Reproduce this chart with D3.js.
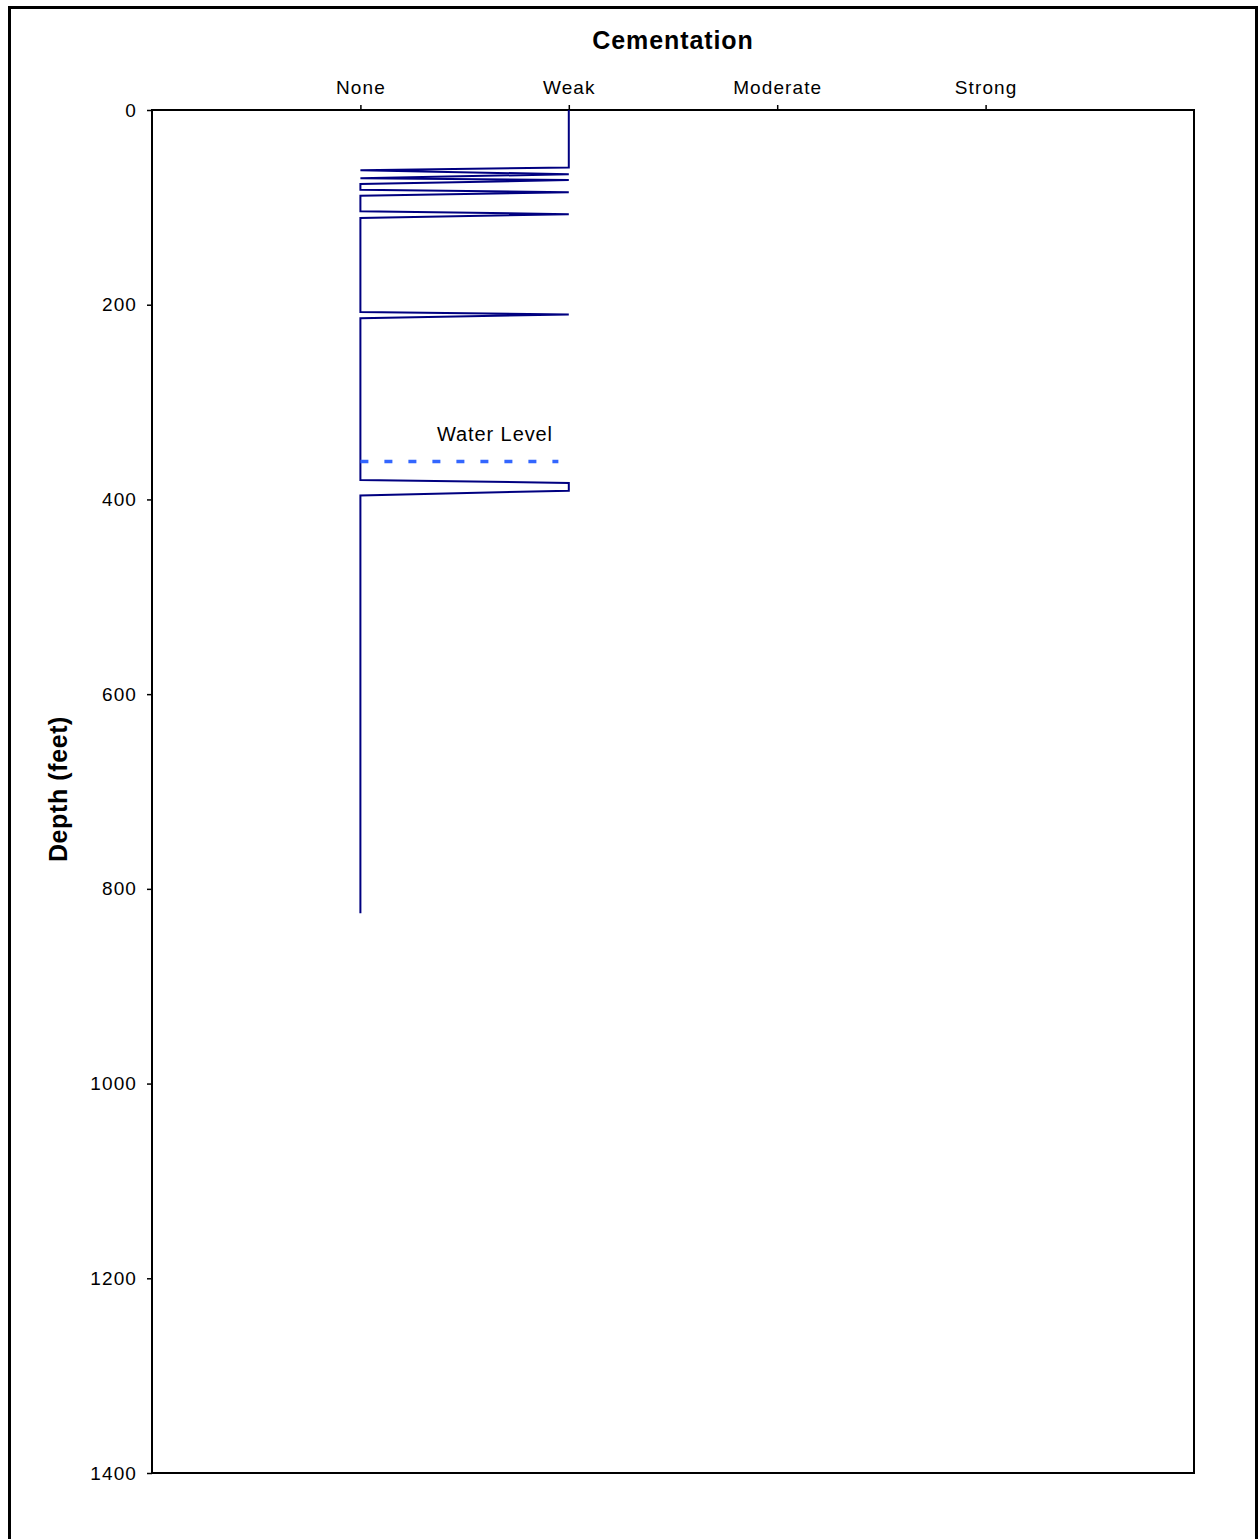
<!DOCTYPE html>
<html>
<head>
<meta charset="utf-8">
<script src="https://cdn.jsdelivr.net/npm/d3@7"></script>
<style>
  html, body { margin: 0; padding: 0; background: #fff; }
  svg { display: block; }
  text { font-family: "Liberation Sans", Arial, Helvetica, sans-serif; fill: #000; }
</style>
</head>
<body>
<svg id="chart" width="1260" height="1539"></svg>
<script>
// ---- data ----
const cementationLabels = ["None", "Weak", "Moderate", "Strong"];
const cementationCodes = [1, 2, 3, 4];
const depthTicks = [0, 200, 400, 600, 800, 1000, 1200, 1400];
// depth (feet) and cementation code (1 = None, 2 = Weak) along the log
const logDepths = [0, 59, 62, 66, 70, 72, 76, 82, 84.5, 88, 104, 107, 111, 207.5, 210, 214, 380, 383, 391, 396, 825];
const logValues = [2, 2, 1, 2, 1, 2, 1, 1, 2, 1, 1, 2, 1, 1, 2, 1, 1, 2, 2, 1, 1];
const waterLevelDepth = 361;
const waterLevelSpan = [1, 1.95];
const waterLevelLabel = "Water Level";
const titleText = "Cementation";
const yAxisTitle = "Depth (feet)";

// ---- layout ----
const svg = d3.select("#chart");
const pLeft = 152, pRight = 1194, pTop = 110, pBottom = 1473;

const x = d3.scaleLinear().domain([0, 5]).range([pLeft, pRight]);
const y = d3.scaleLinear().domain([0, 1400]).range([pTop, pBottom]);

// outer frame
svg.append("rect")
  .attr("x", 9.5).attr("y", 7.5)
  .attr("width", 1247).attr("height", 1560)
  .attr("fill", "none").attr("stroke", "#000").attr("stroke-width", 3);

// plot frame
svg.append("rect")
  .attr("x", pLeft).attr("y", pTop)
  .attr("width", pRight - pLeft).attr("height", pBottom - pTop)
  .attr("fill", "none").attr("stroke", "#000").attr("stroke-width", 2);

// top axis
const xAxis = svg.append("g")
  .attr("transform", `translate(0,${pTop})`)
  .call(d3.axisTop(x)
    .tickValues(cementationCodes)
    .tickFormat((d, i) => cementationLabels[i])
    .tickSize(5).tickSizeOuter(0));
xAxis.select(".domain").remove();
xAxis.selectAll("line").attr("stroke", "#000").attr("stroke-width", 1.5);
xAxis.selectAll("text")
  .attr("y", -15.7).attr("dy", "0em")
  .style("font-size", "19px").style("letter-spacing", "1.1px")
  .attr("fill", "#000");

// left axis
const yAxis = svg.append("g")
  .attr("transform", `translate(${pLeft},0)`)
  .call(d3.axisLeft(y).tickValues(depthTicks).tickFormat(d3.format("d"))
    .tickSize(5).tickSizeOuter(0));
yAxis.select(".domain").remove();
yAxis.selectAll("line").attr("stroke", "#000").attr("stroke-width", 1.5);
yAxis.selectAll("text")
  .attr("x", -15)
  .style("font-size", "19px").style("letter-spacing", "1.1px")
  .attr("fill", "#000");

// title
svg.append("text")
  .attr("x", (pLeft + pRight) / 2).attr("y", 49)
  .attr("text-anchor", "middle")
  .style("font-size", "25px").style("font-weight", "bold").style("letter-spacing", "0.9px")
  .text(titleText);

// y axis title
svg.append("text")
  .attr("transform", "translate(66.5,789) rotate(-90)")
  .attr("text-anchor", "middle")
  .style("font-size", "25px").style("font-weight", "bold").style("letter-spacing", "0.6px")
  .text(yAxisTitle);

// log line
const pts = logDepths.map((d, i) => [logValues[i], d]);
svg.append("path")
  .datum(pts)
  .attr("d", d3.line().x(d => x(d[0])).y(d => y(d[1])))
  .attr("fill", "none")
  .attr("stroke", "#000080")
  .attr("stroke-width", 2)
  .attr("stroke-linejoin", "miter");

// water level
svg.append("line")
  .attr("x1", x(waterLevelSpan[0])).attr("x2", x(waterLevelSpan[1]))
  .attr("y1", y(waterLevelDepth)).attr("y2", y(waterLevelDepth))
  .attr("stroke", "#3366ff").attr("stroke-width", 3.5)
  .attr("stroke-dasharray", "8,16");

svg.append("text")
  .attr("x", 495).attr("y", 440.5)
  .attr("text-anchor", "middle")
  .style("font-size", "20px").style("letter-spacing", "0.9px")
  .text(waterLevelLabel);
</script>
</body>
</html>
